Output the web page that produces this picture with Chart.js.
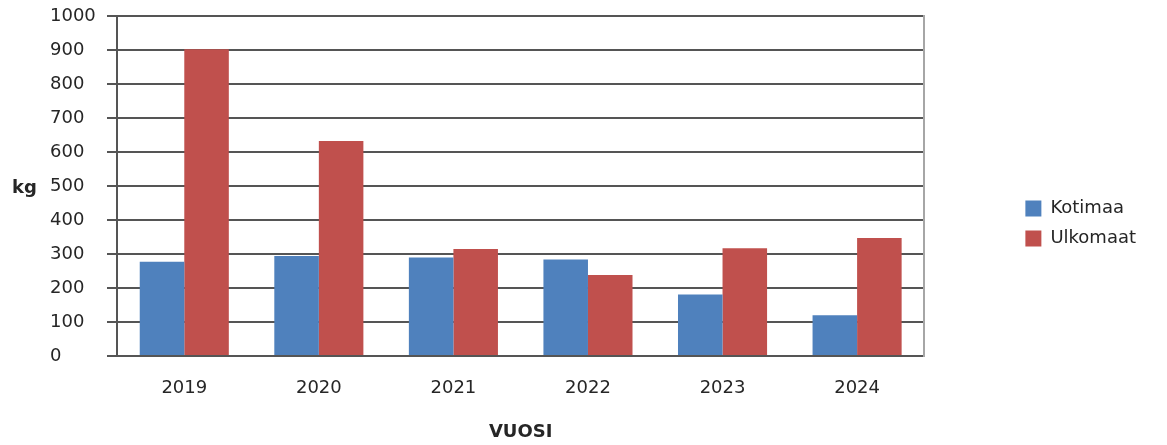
<!DOCTYPE html>
<html lang="fi">
<head>
    <meta charset="UTF-8">
    <title>Kotimaa / Ulkomaat</title>
    <style>
        body {
            margin: 0;
            padding: 0;
            background: #fff;
            overflow: hidden;
        }
        .chart-container {
            position: relative;
            width: 1167px;
            height: 445px;
        }
    </style>
</head>
<body>
    <div class="chart-container">
        <canvas id="kgChart"></canvas>
    </div>

    <script src="https://cdn.jsdelivr.net/npm/chart.js"></script>
    <script>
        // Data
        const years = ['2019', '2020', '2021', '2022', '2023', '2024'];
        const kotimaa = [277, 294, 290, 284, 181, 120];
        const ulkomaat = [902, 632, 315, 238, 317, 347];
        const seriesNames = ['Kotimaa', 'Ulkomaat'];
        const yAxisLabel = 'kg';
        const xAxisLabel = 'VUOSI';

        const fontFamily = '"DejaVu Sans", sans-serif';
        const textColor = '#262626';
        const lineColor = '#555555';

        // horizontal "kg" label to the left of the y axis
        const yLabelPlugin = {
            id: 'yLabel',
            afterLayout(chart) {
                // legend sits a bit above the middle in the original
                chart.legend.top -= 14;
            },
            afterDraw(chart) {
                const ctx = chart.ctx;
                ctx.save();
                ctx.font = 'bold 18px ' + fontFamily;
                ctx.fillStyle = textColor;
                ctx.textAlign = 'left';
                ctx.textBaseline = 'middle';
                ctx.fillText(yAxisLabel, 12, 188);
                ctx.restore();
            }
        };

        const ctx = document.getElementById('kgChart').getContext('2d');
        const chart = new Chart(ctx, {
            type: 'bar',
            data: {
                labels: years,
                datasets: [{
                    label: seriesNames[0],
                    data: kotimaa,
                    backgroundColor: '#4F81BD'
                }, {
                    label: seriesNames[1],
                    data: ulkomaat,
                    backgroundColor: '#C0504D'
                }]
            },
            options: {
                responsive: true,
                maintainAspectRatio: false,
                animation: false,
                layout: {
                    padding: { left: 50, top: 16, right: 21, bottom: 0 }
                },
                datasets: {
                    bar: {
                        categoryPercentage: 0.662,
                        barPercentage: 1
                    }
                },
                plugins: {
                    legend: {
                        position: 'right',
                        align: 'center',
                        labels: {
                            boxWidth: 16,
                            boxHeight: 16,
                            padding: 12,
                            color: textColor,
                            font: { family: fontFamily, size: 18 }
                        }
                    },
                    tooltip: { enabled: false }
                },
                scales: {
                    x: {
                        grid: { display: false, drawTicks: false },
                        border: { display: true, color: lineColor, width: 2 },
                        ticks: {
                            color: textColor,
                            padding: 22,
                            font: { family: fontFamily, size: 18 }
                        },
                        title: {
                            display: true,
                            text: xAxisLabel,
                            color: textColor,
                            padding: { top: 0, bottom: 2 },
                            font: { family: fontFamily, size: 18, weight: 'bold' }
                        },
                        afterFit: scale => { scale.height = 89; }
                    },
                    y: {
                        min: 0,
                        max: 1000,
                        ticks: {
                            stepSize: 100,
                            crossAlign: 'far',
                            format: { useGrouping: false },
                            color: textColor,
                            font: { family: fontFamily, size: 18 }
                        },
                        grid: {
                            color: lineColor,
                            lineWidth: 2,
                            tickLength: 10
                        },
                        border: { display: true, color: lineColor, width: 2 },
                        afterFit: scale => { scale.width = 67; }
                    },
                    // empty right axis, only gives the gap before the legend and the light frame line
                    yRight: {
                        position: 'right',
                        min: 0,
                        max: 1000,
                        grid: { display: false, drawTicks: false },
                        ticks: { display: false },
                        border: { display: true, color: '#a6a6a6', width: 2 },
                        afterFit: scale => { scale.width = 89; }
                    }
                }
            },
            plugins: [yLabelPlugin]
        });
    </script>
</body>
</html>
